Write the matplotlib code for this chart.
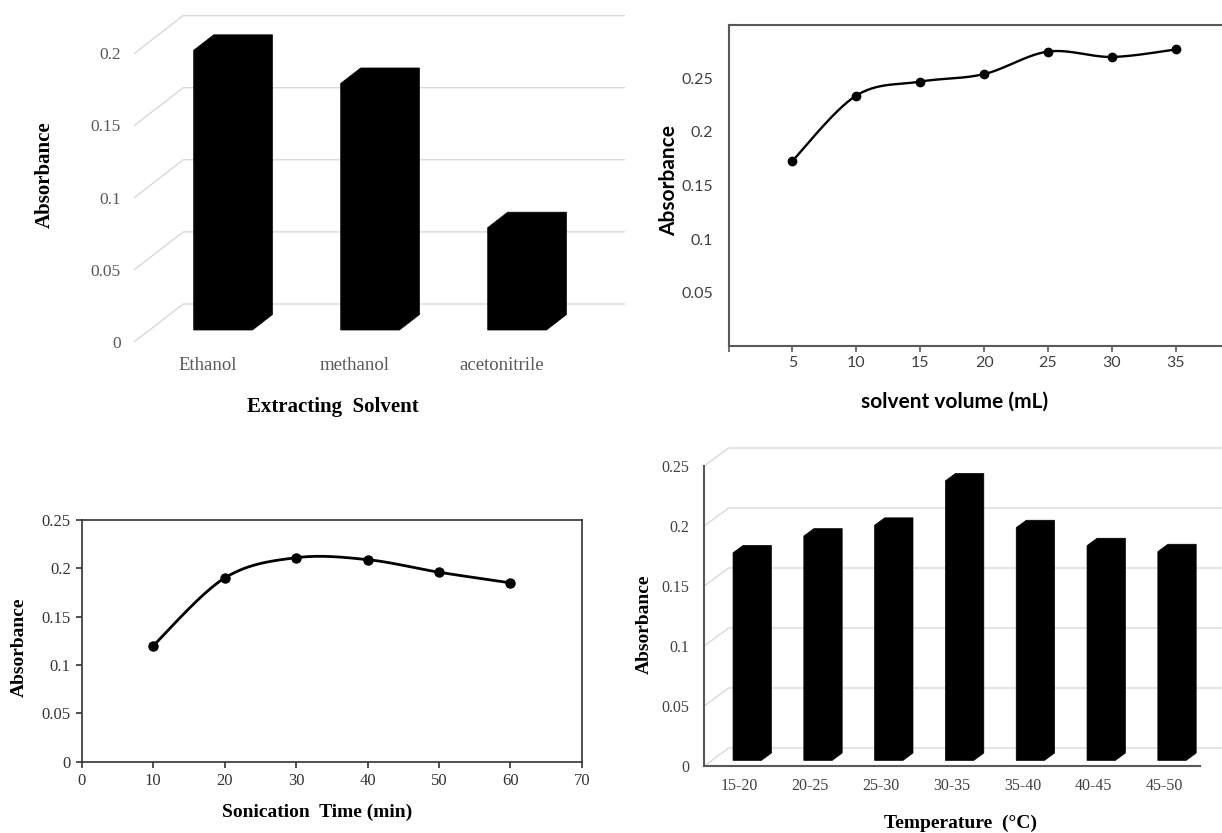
import numpy as np
import matplotlib.pyplot as plt
from matplotlib.patches import Polygon

# extracting solvent
solvents = ['Ethanol', 'methanol', 'acetonitrile']
solvent_abs = [0.194, 0.171, 0.071]

# solvent volume
volume_ml = [5, 10, 15, 20, 25, 30, 35]
volume_abs = [0.173, 0.234, 0.247, 0.254, 0.275, 0.270, 0.277]

# sonication time
time_min = [10, 20, 30, 40, 50, 60]
time_abs = [0.120, 0.190, 0.211, 0.209, 0.196, 0.185]

# temperature
temp_ranges = ['15-20', '20-25', '25-30', '30-35', '35-40', '40-45', '45-50']
temp_abs = [0.173, 0.187, 0.196, 0.233, 0.194, 0.179, 0.174]

W, H = 1222, 833
fig = plt.figure(figsize=(W / 100, H / 100), dpi=100)
SERIF = 'Liberation Serif'
SANS = 'Lato'


def add_ax(left, top, right, bottom):
    # axes placed by pixel box
    return fig.add_axes([left / W, 1 - bottom / H, (right - left) / W, (bottom - top) / H])


def label(x, y, s, size, family, rot=0):
    fig.text(x / W, 1 - y / H, s, ha='center', va='center', rotation=rot,
             fontsize=size, fontweight='bold', family=family)


def smooth(x, y, n=30):
    # excel style smoothed line: catmull-rom segments as bezier curves
    p = np.column_stack([x, y]).astype(float)
    out = [p[:1]]
    t = np.linspace(0, 1, n)[1:, None]
    for i in range(len(p) - 1):
        p0 = p[max(i - 1, 0)]
        p1, p2 = p[i], p[i + 1]
        p3 = p[min(i + 2, len(p) - 1)]
        c1 = p1 + (p2 - p0) / 6
        c2 = p2 - (p3 - p1) / 6
        out.append((1 - t)**3 * p1 + 3 * (1 - t)**2 * t * c1 + 3 * (1 - t) * t**2 * c2 + t**3 * p2)
    out = np.vstack(out)
    return out[:, 0], out[:, 1]


def bars_3d(ax, labels, values, ticks, dx, dy, x_right, width=0.4, d1=0.31, d2=0.72):
    # back wall gridlines with the receding diagonal
    for v in ticks:
        ax.plot([-0.5, -0.5 + dx, x_right], [v, v + dy, v + dy], color='#d9d9d9',
                lw=1, clip_on=False, zorder=1)
    for i, v in enumerate(values):
        fx, fy = i - width / 2 + d1 * dx, d1 * dy
        bx, by = (d2 - d1) * dx, (d2 - d1) * dy
        pts = [(fx, fy), (fx, fy + v), (fx + bx, fy + v + by), (fx + width + bx, fy + v + by),
               (fx + width + bx, fy + by), (fx + width, fy)]
        ax.add_patch(Polygon(pts, closed=True, facecolor='black', edgecolor='black',
                             lw=0.5, zorder=3, clip_on=False))
    ax.set_xticks(range(len(labels)))
    ax.set_xticklabels(labels)
    ax.set_yticks(ticks)
    ax.set_yticklabels([f'{t:g}' for t in ticks])
    ax.set_facecolor('none')


# ---- top left: extracting solvent (3d columns)
ax1 = add_ax(134.5, 14, 624, 341.7)
dx1, dy1 = 48.7 / 147, 37.7 / 1442
bars_3d(ax1, solvents, solvent_abs, [0, 0.05, 0.1, 0.15, 0.2], dx1, dy1, 2.5 + dx1)
ax1.set_xlim(-0.5, -0.5 + (624 - 134.5) / 147)
ax1.set_ylim(0, (341.7 - 14) / 1442)
for s in ax1.spines.values():
    s.set_visible(False)
ax1.tick_params(length=0, labelsize=12.5, labelcolor='#595959')
ax1.tick_params(axis='x', labelsize=13.5, pad=11)
ax1.tick_params(axis='y', pad=10)
for t in ax1.get_xticklabels() + ax1.get_yticklabels():
    t.set_family(SERIF)
label(45, 175, 'Absorbance', 15, SERIF, 90)
label(333, 407, 'Extracting  Solvent', 15, SERIF)

# ---- top right: solvent volume
ax2 = add_ax(728.5, 24.8, 1222, 346.3)
vx, vy = smooth(volume_ml, volume_abs)
ax2.plot(vx, vy, color='black', lw=1.7)
ax2.plot(volume_ml, volume_abs, 'o', color='black', ms=6)
ax2.set_xlim(0, (1222 - 728.5) / 12.78)
ax2.set_ylim(0, 0.3)
ax2.set_xticks([0] + volume_ml)
ax2.set_xticklabels([''] + [str(v) for v in volume_ml])
ax2.set_yticks([0.05, 0.1, 0.15, 0.2, 0.25])
ax2.set_yticklabels(['0.05', '0.1', '0.15', '0.2', '0.25'])
ax2.spines['right'].set_visible(False)
for s in ax2.spines.values():
    s.set_color('#595959')
    s.set_linewidth(1.5)
ax2.tick_params(axis='x', direction='out', length=4, width=1.2, color='#595959', pad=3)
ax2.tick_params(axis='y', length=0, pad=11)
ax2.tick_params(labelsize=11.5, labelcolor='#404040')
for t in ax2.get_xticklabels() + ax2.get_yticklabels():
    t.set_family(SANS)
label(669, 181, 'Absorbance', 15, SANS, 90)
label(955, 402, 'solvent volume (mL)', 15, SANS)

# ---- bottom left: sonication time
ax3 = add_ax(81.8, 520, 581.8, 761.7)
sx, sy = smooth(time_min, time_abs)
ax3.plot(sx, sy, color='black', lw=2.0)
ax3.plot(time_min, time_abs, 'o', color='black', ms=6.5)
ax3.set_xlim(0, 70)
ax3.set_ylim(0, 0.25)
ax3.set_xticks(range(0, 80, 10))
ax3.set_yticks([0, 0.05, 0.1, 0.15, 0.2, 0.25])
ax3.set_yticklabels(['0', '0.05', '0.1', '0.15', '0.2', '0.25'])
for s in ax3.spines.values():
    s.set_color('#333333')
    s.set_linewidth(1.2)
ax3.tick_params(direction='out', length=4, width=1.2, color='#333333',
                labelsize=12, labelcolor='#333333', pad=4)
for t in ax3.get_xticklabels() + ax3.get_yticklabels():
    t.set_family(SERIF)
label(19.5, 647, 'Absorbance', 14, SERIF, 90)
label(317, 812, 'Sonication  Time (min)', 14, SERIF)

# ---- bottom right: temperature (3d columns)
ax4 = add_ax(704.2, 447.3, 1222, 766)
dx4, dy4 = 24.5 / 70.8, 18 / 1200
bars_3d(ax4, temp_ranges, temp_abs, [0, 0.05, 0.1, 0.15, 0.2, 0.25], dx4, dy4, 6.5 + dx4)
ax4.set_xlim(-0.5, 6.5 + (1222 - 1199.8) / 70.8)
ax4.set_ylim(0, (766 - 447.3) / 1200)
ax4.spines['top'].set_visible(False)
ax4.spines['right'].set_visible(False)
ax4.spines['left'].set_bounds(0, 0.25)
ax4.spines['bottom'].set_bounds(-0.5, 6.5)
for s in ax4.spines.values():
    s.set_color('#595959')
    s.set_linewidth(1.5)
ax4.tick_params(length=0, labelsize=11.5, labelcolor='#404040')
ax4.tick_params(axis='y', pad=11)
ax4.tick_params(axis='x', pad=9)
for t in ax4.get_xticklabels() + ax4.get_yticklabels():
    t.set_family(SERIF)
label(644, 624, 'Absorbance', 14, SERIF, 90)
label(961, 823, 'Temperature  (°C)', 14, SERIF)

fig.savefig('out.png', dpi=100)
